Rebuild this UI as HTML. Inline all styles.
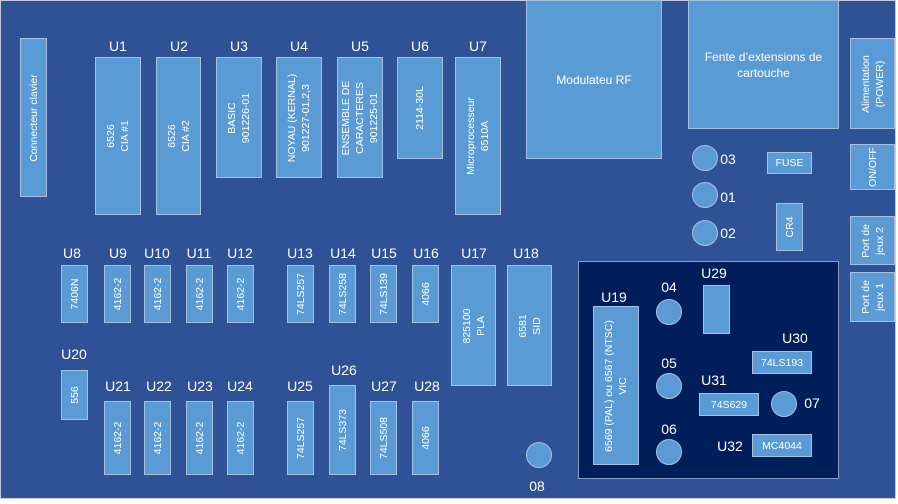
<!DOCTYPE html>
<html><head><meta charset="utf-8"><style>
body{margin:0;width:898px;height:504px;background:#fff;position:relative;overflow:hidden;font-family:"Liberation Sans",sans-serif;color:#fff}
#b{position:absolute;left:0;top:0;width:894px;height:497px;background:#2F5296;border:1px solid #c8ccd4}
.c{position:absolute;background:#5B9BD5;border:1px solid #a9c0dc;box-sizing:border-box}
.c span{position:absolute;left:50%;top:50%;white-space:nowrap;font-size:10.5px;line-height:14px;text-align:center;transform:translate(-50%,-50%) rotate(-90deg)}
.c span.h{transform:translate(-50%,-50%)}
.l{position:absolute;font-size:14px;transform:translate(-50%,-50%);white-space:nowrap}
.o{position:absolute;width:26px;height:26px;border-radius:50%;background:#5B9BD5;border:1px solid #a9c0dc;box-sizing:border-box;transform:translate(-50%,-50%)}
#p{position:absolute;left:578px;top:261px;width:261px;height:218px;background:#001E5A;border:1px solid #8a9cc0;box-sizing:border-box}
</style></head><body>
<div id="b"></div>
<div class="c" style="left:20px;top:38px;width:27px;height:159px"><span>Connecteur clavier</span></div>
<div class="l" style="left:118px;top:46px">U1</div><div class="c" style="left:95px;top:57px;width:46px;height:158px"><span>6526<br>CIA #1</span></div>
<div class="l" style="left:179px;top:46px">U2</div><div class="c" style="left:156px;top:57px;width:45px;height:158px"><span>6526<br>CIA #2</span></div>
<div class="l" style="left:239px;top:46px">U3</div><div class="c" style="left:216px;top:57px;width:46px;height:121px"><span>BASIC<br>901226-01</span></div>
<div class="l" style="left:299px;top:46px">U4</div><div class="c" style="left:276px;top:57px;width:46px;height:121px"><span>NOYAU (KERNAL)<br>901227-01,2,3</span></div>
<div class="l" style="left:360px;top:46px">U5</div><div class="c" style="left:337px;top:57px;width:46px;height:121px"><span>ENSEMBLE DE<br>CARACTERES<br>901225-01</span></div>
<div class="l" style="left:420px;top:46px">U6</div><div class="c" style="left:397px;top:57px;width:46px;height:102px"><span>2114-30L</span></div>
<div class="l" style="left:478px;top:46px">U7</div><div class="c" style="left:455px;top:57px;width:46px;height:158px"><span>Microprocesseur<br>6510A</span></div>
<div class="c" style="left:526px;top:0px;width:136px;height:159px"><span class="h" style="font-size:12px">Modulateu RF</span></div>
<div class="c" style="left:688px;top:0px;width:151px;height:129px"><span class="h" style="font-size:12px;line-height:16px">Fente d’extensions de<br>cartouche</span></div>
<div class="c" style="left:850px;top:38px;width:45px;height:91px"><span>Alimentation<br>(POWER)</span></div>
<div class="c" style="left:850px;top:144px;width:45px;height:46px"><span>ON/OFF</span></div>
<div class="c" style="left:850px;top:216px;width:45px;height:49px"><span>Port de<br>jeux 2</span></div>
<div class="c" style="left:850px;top:272px;width:45px;height:50px"><span>Port de<br>jeux 1</span></div>
<div class="o" style="left:705px;top:158px"></div><div class="l" style="left:728px;top:159px">03</div>
<div class="o" style="left:705px;top:195px"></div><div class="l" style="left:728px;top:197px">01</div>
<div class="o" style="left:705px;top:233px"></div><div class="l" style="left:728px;top:233px">02</div>
<div class="c" style="left:767px;top:152px;width:45px;height:22px"><span class="h">FUSE</span></div>
<div class="c" style="left:776px;top:203px;width:27px;height:48px"><span>CR4</span></div>

<div class="l" style="left:72px;top:253px">U8</div><div class="c" style="left:61px;top:265px;width:27px;height:58px"><span>7406N</span></div>
<div class="l" style="left:118px;top:253px">U9</div><div class="c" style="left:104px;top:265px;width:27px;height:58px"><span>4162-2</span></div>
<div class="l" style="left:157px;top:253px">U10</div><div class="c" style="left:144px;top:265px;width:27px;height:58px"><span>4162-2</span></div>
<div class="l" style="left:199px;top:253px">U11</div><div class="c" style="left:186px;top:265px;width:27px;height:58px"><span>4162-2</span></div>
<div class="l" style="left:240px;top:253px">U12</div><div class="c" style="left:227px;top:265px;width:27px;height:58px"><span>4162-2</span></div>
<div class="l" style="left:300px;top:253px">U13</div><div class="c" style="left:287px;top:265px;width:27px;height:58px"><span>74LS257</span></div>
<div class="l" style="left:343px;top:253px">U14</div><div class="c" style="left:329px;top:265px;width:27px;height:58px"><span>74LS258</span></div>
<div class="l" style="left:384px;top:253px">U15</div><div class="c" style="left:370px;top:265px;width:27px;height:58px"><span>74LS139</span></div>
<div class="l" style="left:426px;top:253px">U16</div><div class="c" style="left:412px;top:265px;width:27px;height:58px"><span>4066</span></div>
<div class="l" style="left:474px;top:253px">U17</div><div class="c" style="left:451px;top:265px;width:45px;height:121px"><span>825100<br>PLA</span></div>
<div class="l" style="left:526px;top:253px">U18</div><div class="c" style="left:507px;top:265px;width:45px;height:121px"><span>6581<br>SID</span></div>
<div class="l" style="left:74px;top:354px">U20</div><div class="c" style="left:61px;top:370px;width:27px;height:50px"><span>556</span></div>

<div class="l" style="left:118px;top:386px">U21</div><div class="c" style="left:104px;top:401px;width:27px;height:74px"><span>4162-2</span></div>
<div class="l" style="left:159px;top:386px">U22</div><div class="c" style="left:144px;top:401px;width:27px;height:74px"><span>4162-2</span></div>
<div class="l" style="left:200px;top:386px">U23</div><div class="c" style="left:186px;top:401px;width:27px;height:74px"><span>4162-2</span></div>
<div class="l" style="left:240px;top:386px">U24</div><div class="c" style="left:227px;top:401px;width:27px;height:74px"><span>4162-2</span></div>
<div class="l" style="left:300px;top:386px">U25</div><div class="c" style="left:287px;top:401px;width:27px;height:74px"><span>74LS257</span></div>
<div class="l" style="left:344px;top:370px">U26</div><div class="c" style="left:329px;top:385px;width:27px;height:90px"><span>74LS373</span></div>
<div class="l" style="left:384px;top:386px">U27</div><div class="c" style="left:370px;top:401px;width:27px;height:74px"><span>74LS508</span></div>
<div class="l" style="left:427px;top:386px">U28</div><div class="c" style="left:412px;top:401px;width:27px;height:74px"><span>4066</span></div>
<div class="o" style="left:539px;top:455px"></div><div class="l" style="left:537px;top:486px">08</div>

<div id="p"></div>
<div class="l" style="left:614px;top:297px">U19</div><div class="c" style="left:593px;top:306px;width:46px;height:159px"><span>6569 (PAL) ou 6567 (NTSC)<br>VIC</span></div>
<div class="l" style="left:669px;top:287px">04</div><div class="o" style="left:669px;top:312px"></div>
<div class="l" style="left:669px;top:363px">05</div><div class="o" style="left:669px;top:386px"></div>
<div class="l" style="left:669px;top:429px">06</div><div class="o" style="left:669px;top:452px"></div>
<div class="l" style="left:714px;top:273px">U29</div><div class="c" style="left:703px;top:285px;width:27px;height:49px"></div>
<div class="l" style="left:795px;top:338px">U30</div><div class="c" style="left:752px;top:351px;width:60px;height:23px"><span class="h">74LS193</span></div>
<div class="l" style="left:714px;top:380px">U31</div><div class="c" style="left:699px;top:393px;width:60px;height:23px"><span class="h">74S629</span></div>
<div class="o" style="left:784px;top:404px"></div><div class="l" style="left:812px;top:403px">07</div>
<div class="l" style="left:730px;top:446px">U32</div><div class="c" style="left:752px;top:434px;width:60px;height:23px"><span class="h">MC4044</span></div>
</body></html>
